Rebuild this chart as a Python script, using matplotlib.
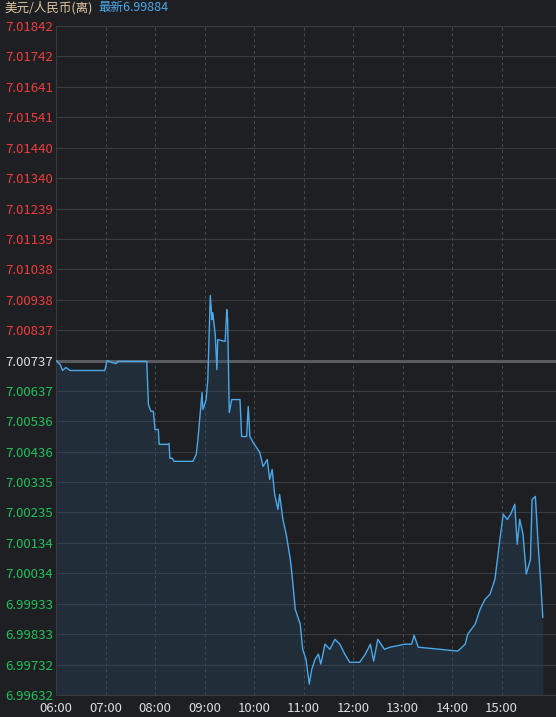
import matplotlib.pyplot as plt
import numpy as np

plt.rcParams['font.family'] = ['Noto Sans CJK SC', 'DejaVu Sans']

BG = "#1e1f23"
LINE = "#4aa8ea"
RED = "#f03c3c"
GREEN = "#1fc25a"

# minutes since 06:00 and price
minutes = [0, 5, 8, 12, 17, 59, 62, 68, 73, 75, 110, 112, 115, 118, 120, 124, 125, 135, 137, 138,
           141, 143, 166, 170, 172, 177, 178, 182, 184, 187, 189, 190, 193, 195, 196, 205, 207, 208,
           210, 213, 223, 225, 231, 233, 235, 239, 247, 251, 256, 259, 262, 265, 269, 271, 275, 279,
           284, 286, 290, 296, 299, 303, 307, 310, 314, 318, 321, 326, 332, 338, 344, 350, 356, 368,
           375, 381, 385, 390, 398, 405, 423, 431, 434, 439, 465, 487, 496, 499, 508, 514, 520, 526,
           532, 538, 542, 547, 551, 556, 559, 562, 566, 570, 575, 577, 581, 584, 588, 590]
prices = [7.00737, 7.00724, 7.00704, 7.00714, 7.00704, 7.00704, 7.00737, 7.00730, 7.00727, 7.00734,
          7.00734, 7.00592, 7.00569, 7.00569, 7.00509, 7.00509, 7.00460, 7.00460, 7.00463, 7.00414,
          7.00414, 7.00404, 7.00404, 7.00427, 7.00476, 7.00631, 7.00575, 7.00608, 7.00674, 7.00952,
          7.00872, 7.00895, 7.00823, 7.00707, 7.00806, 7.00800, 7.00905, 7.00872, 7.00565, 7.00608,
          7.00608, 7.00486, 7.00486, 7.00585, 7.00486, 7.00466, 7.00433, 7.00387, 7.00410, 7.00344,
          7.00377, 7.00295, 7.00245, 7.00295, 7.00212, 7.00163, 7.00080, 7.00031, 6.99915, 6.99866,
          6.99783, 6.99750, 6.99668, 6.99717, 6.99750, 6.99767, 6.99734, 6.99800, 6.99783, 6.99816,
          6.99800, 6.99767, 6.99740, 6.99740, 6.99767, 6.99800, 6.99744, 6.99816, 6.99783, 6.99790,
          6.99800, 6.99800, 6.99829, 6.99790, 6.99783, 6.99777, 6.99800, 6.99833, 6.99866, 6.99915,
          6.99948, 6.99965, 7.00014, 7.00146, 7.00229, 7.00212, 7.00229, 7.00262, 7.00130, 7.00212,
          7.00163, 7.00031, 7.00080, 7.00278, 7.00288, 7.00146, 6.99981, 6.99889]

y_ticks = [7.01842, 7.01742, 7.01641, 7.01541, 7.01440, 7.01340, 7.01239, 7.01139, 7.01038,
           7.00938, 7.00837, 7.00737, 7.00637, 7.00536, 7.00436, 7.00335, 7.00235, 7.00134,
           7.00034, 6.99933, 6.99833, 6.99732, 6.99632]
x_ticks = [0, 60, 120, 180, 240, 300, 360, 420, 480, 540]
x_labels = ["06:00", "07:00", "08:00", "09:00", "10:00", "11:00", "12:00", "13:00", "14:00", "15:00"]
base = 7.00737

fig = plt.figure(figsize=(5.56, 7.17), dpi=100)
fig.patch.set_facecolor(BG)
ax = fig.add_axes([56 / 556, 22 / 717, 500 / 556, 669 / 717])
ax.set_facecolor(BG)

ax.set_xlim(0, 606)
ax.set_ylim(y_ticks[-1], y_ticks[0])

for yt in y_ticks:
    ax.axhline(yt, color="#3a3b40", lw=0.8, zorder=1)
for xt in x_ticks[1:]:
    ax.axvline(xt, color="#4a4b50", lw=0.7, ls=(0, (3, 3)), zorder=1)
ax.axhline(base, color="#5a5b60", lw=2.2, zorder=2)

x = np.array(minutes)
y = np.array(prices)
ax.fill_between(x, y, y_ticks[-1], color="#2a4a66", alpha=0.35, lw=0, zorder=2)
ax.plot(x, y, color=LINE, lw=1.0, zorder=3)

ax.set_yticks(y_ticks)
ax.set_yticklabels([f"{v:.5f}" for v in y_ticks], fontsize=9.5)
for lbl, v in zip(ax.get_yticklabels(), y_ticks):
    lbl.set_color(RED if v > base + 1e-7 else (GREEN if v < base - 1e-7 else "#dddddd"))
ax.set_xticks(x_ticks)
ax.set_xticklabels(x_labels, fontsize=9.5, color="#dddddd")
ax.tick_params(axis="y", length=0, pad=2)
ax.tick_params(axis="x", length=0, pad=5)
for s in ax.spines.values():
    s.set_visible(False)
ax.spines["left"].set_visible(True)
ax.spines["left"].set_color("#3a3b40")
ax.spines["bottom"].set_visible(True)
ax.spines["bottom"].set_color("#3a3b40")

fig.text(4 / 556, 1 - 8 / 717, "美元/人民币(离)", color="#e0c8a0", fontsize=9, va="center")
fig.text(98 / 556, 1 - 8 / 717, "最新6.99884", color="#4aa8ea", fontsize=9, va="center")

fig.savefig("out.png", dpi=100, facecolor=BG)
